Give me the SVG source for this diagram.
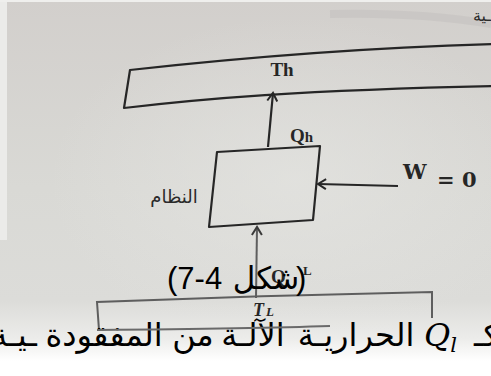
<svg xmlns="http://www.w3.org/2000/svg" width="491" height="376" viewBox="0 0 491 376">
  <defs>
    <linearGradient id="paper" x1="0" y1="0" x2="0" y2="1">
      <stop offset="0" stop-color="#d2cfcc"/>
      <stop offset="0.5" stop-color="#d9d9d5"/>
      <stop offset="0.8" stop-color="#dcdcd9"/>
      <stop offset="0.9" stop-color="#ececea"/>
      <stop offset="0.96" stop-color="#ffffff"/>
    </linearGradient>
    <radialGradient id="light" cx="0.6" cy="0.55" r="0.5">
      <stop offset="0" stop-color="#e4e4e1" stop-opacity="0.7"/>
      <stop offset="1" stop-color="#e4e4e1" stop-opacity="0"/>
    </radialGradient>
    <marker id="chev" viewBox="0 0 12 12" refX="10" refY="6" markerWidth="12" markerHeight="12" markerUnits="userSpaceOnUse" orient="auto">
      <path d="M2,1 L10,6 L2,11" fill="none" stroke="#262626" stroke-width="2"/>
    </marker>
    <marker id="chevL" viewBox="0 0 12 12" refX="10" refY="6" markerWidth="12" markerHeight="12" markerUnits="userSpaceOnUse" orient="auto">
      <path d="M2,1 L10,6 L2,11" fill="none" stroke="#3a3a3a" stroke-width="2"/>
    </marker>
  </defs>
  <style>
    .ink { fill: none; stroke: #262626; stroke-width: 2.2; stroke-linejoin: round; }
    .faint { fill: none; stroke: #5e5e5e; stroke-width: 2; }
    .lbl { font-family: "Liberation Serif", "DejaVu Serif", serif; font-weight: bold; fill: #262626; }
    .wlbl { font-family: "DejaVu Serif", serif; font-weight: bold; fill: #262626; }
    .ar { font-family: "DejaVu Sans", sans-serif; fill: #2a2a2a; }
    .cap { font-family: "Liberation Sans", "DejaVu Sans", sans-serif; fill: #000; }
    .pg { font-family: "DejaVu Sans", sans-serif; fill: #000; font-size: 32px; text-anchor: middle; }
  </style>

  <!-- photographed page -->
  <rect x="0" y="0" width="491" height="376" fill="url(#paper)"/>
  <rect x="0" y="0" width="491" height="330" fill="url(#light)"/>
  <rect x="0" y="0" width="7" height="240" fill="#ebebe9"/>
  <rect x="0" y="0" width="491" height="2" fill="#efefed"/>
  <path d="M330,14 Q420,12 491,24" fill="none" stroke="#c4c2bf" stroke-width="8" opacity="0.6"/>
  <text x="491" y="21" class="ar" font-size="16" text-anchor="end" fill="#3c3c3c">ـية</text>

  <!-- hot reservoir -->
  <g id="hot-reservoir">
    <path class="ink" d="M495,44 C350,48 220,60 130,70 L124,108 C200,99 300,90 495,86"/>
    <text class="lbl" x="282" y="76" font-size="19" text-anchor="middle">Th</text>
  </g>

  <!-- system -->
  <g id="system">
    <polygon class="ink" points="217,152 320,146 313,220 209,227"/>
    <text class="ar" x="174" y="203" font-size="18" text-anchor="middle" fill="#222">النظام</text>
  </g>

  <!-- cold reservoir -->
  <g id="cold-reservoir">
    <path class="faint" d="M99,330 L97,302 C200,298 330,294 432,292 L432,318"/>
    <text class="lbl" x="253" y="316" font-size="18" font-style="italic" fill="#3a3a3a">T<tspan font-size="13" dx="2">L</tspan></text>
  </g>

  <!-- connectors -->
  <g id="connectors">
    <line class="ink" x1="268" y1="147" x2="273" y2="93" marker-end="url(#chev)"/>
    <line class="ink" x1="398" y1="186" x2="318" y2="184" marker-end="url(#chev)"/>
    <line class="faint" x1="256" y1="298" x2="257" y2="227" stroke="#3a3a3a" stroke-width="2.4" marker-end="url(#chevL)"/>
  </g>

  <!-- connector labels -->
  <g id="labels">
    <text class="lbl" x="290" y="142" font-size="19">Q<tspan font-size="15">h</tspan></text>
    <text class="wlbl" x="403" y="179" font-size="21">W</text>
    <text class="wlbl" x="437" y="187" font-size="21">=</text>
    <text class="wlbl" x="462" y="187" font-size="21">0</text>
    <text class="lbl" x="271" y="283" font-size="19" fill="#555">Q</text>
    <text class="lbl" x="303" y="275" font-size="13" fill="#555">L</text>
  </g>

  <!-- caption -->
  <g id="caption">
    <text class="cap" x="167" y="289" font-size="31">(7-4</text>
    <text class="cap" x="266" y="289" font-size="31" text-anchor="middle">شكل</text>
    <text class="cap" x="296" y="289" font-size="31">)</text>
  </g>

  <!-- page text line (words placed left to right as printed) -->
  <g id="page-text">
    <text class="pg" x="14" y="346">ـيـة</text>
    <text class="pg" x="104" y="346">المفقودة</text>
    <text class="pg" x="193" y="346">من</text>
    <text class="pg" x="253" y="346">الآلـة</text>
    <text class="pg" x="356" y="346">الحراريـة</text>
    <text x="424" y="346" font-family="DejaVu Serif, serif" font-style="italic" font-size="32" fill="#000">Q<tspan font-size="21" dy="6">l</tspan></text>
    <text class="pg" x="474" y="346" style="text-anchor:start">شكـ</text>
    <path d="M97,330 C200,329 300,327 330,326" fill="none" stroke="#6a6a6a" stroke-width="2"/>
  </g>
</svg>
